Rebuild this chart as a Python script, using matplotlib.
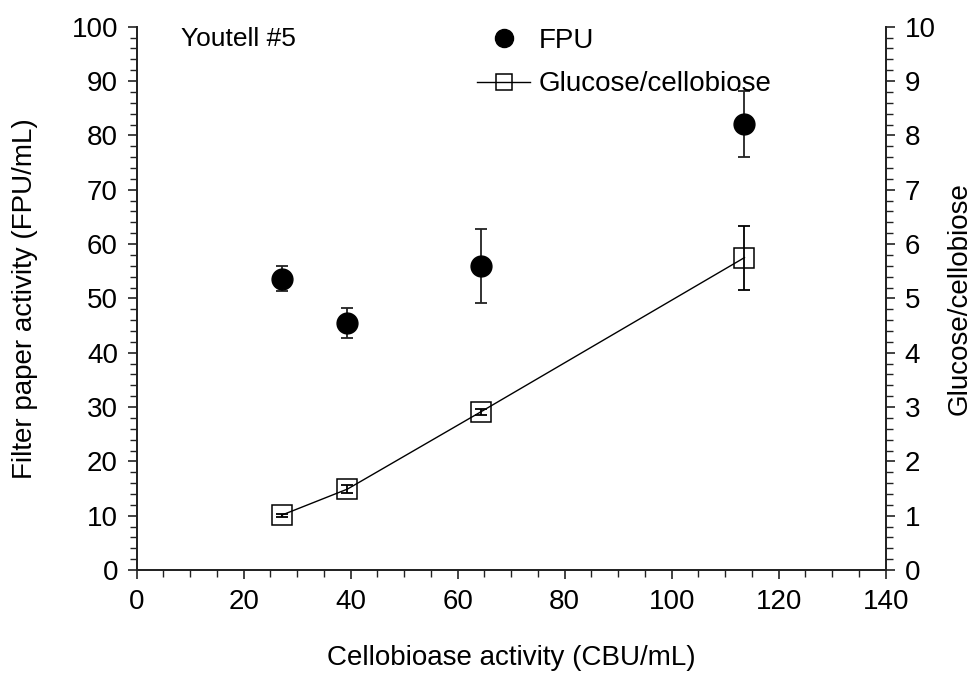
import numpy as np
import matplotlib.pyplot as plt
from matplotlib.lines import Line2D
from matplotlib.ticker import MultipleLocator

plt.rcParams["font.family"] = ["Liberation Sans", "DejaVu Sans"]

# cellobiase activity (CBU/mL)
cbu = [27.1, 39.4, 64.3, 113.6]

# filter paper activity (FPU/mL), left axis
fpu = [53.6, 45.5, 56.0, 82.1]
fpu_err = [2.3, 2.8, 6.8, 6.0]

# glucose/cellobiose ratio, right axis
ratio = [1.01, 1.49, 2.91, 5.75]
ratio_err = [0.03, 0.07, 0.05, 0.59]

fig = plt.figure(figsize=(9.72, 6.73), dpi=100)
ax = fig.add_axes([0.1406, 0.153, 0.7706, 0.8073])
ax2 = ax.twinx()

ax.errorbar(cbu, fpu, yerr=fpu_err, fmt="o", color="black", ms=15,
            ecolor="#222222", elinewidth=1.3, capsize=4.6, capthick=1.3, zorder=3)

ax2.plot(cbu, ratio, color="black", lw=1.0, zorder=2)
ax2.errorbar(cbu, ratio, yerr=ratio_err, fmt="none", ecolor="black",
             elinewidth=1.3, capsize=4.6, capthick=1.3, zorder=3)
ax2.plot(cbu, ratio, ls="none", marker="s", ms=15, mfc="none", mec="black",
         mew=1.1, zorder=4)

ax.set_xlim(0, 140)
ax.set_ylim(0, 100)
ax2.set_ylim(0, 10)

ax.xaxis.set_major_locator(MultipleLocator(20))
ax.xaxis.set_minor_locator(MultipleLocator(5))
ax.yaxis.set_major_locator(MultipleLocator(10))
ax.yaxis.set_minor_locator(MultipleLocator(2))
ax2.yaxis.set_major_locator(MultipleLocator(1))
ax2.yaxis.set_minor_locator(MultipleLocator(0.2))

for a in (ax, ax2):
    a.spines["top"].set_visible(False)
    for s in ("left", "right", "bottom"):
        a.spines[s].set_linewidth(1.3)
        a.spines[s].set_color("#222222")
    a.tick_params(which="major", direction="out", length=6.5, width=1.2,
                  labelsize=20, pad=7, color="#222222")
    a.tick_params(which="minor", direction="out", length=5, width=1.0,
                  color="#222222")

ax.set_xlabel("Cellobioase activity (CBU/mL)", fontsize=20, labelpad=22)
ax.set_ylabel("Filter paper activity (FPU/mL)", fontsize=20, labelpad=24)
ax2.set_ylabel("Glucose/cellobiose", fontsize=20, labelpad=8)

ax.text(0.059, 0.977, "Youtell #5", transform=ax.transAxes, fontsize=19,
        va="center", ha="left")

handles = [
    Line2D([], [], ls="none", marker="o", color="black", ms=13),
    Line2D([], [], color="black", lw=1.0, marker="s", ms=11, mfc="none",
           mec="black", mew=1.1),
]
ax2.legend(handles, ["FPU", "Glucose/cellobiose"], loc="upper left",
           bbox_to_anchor=(0.44, 1.018), frameon=False, fontsize=20,
           handlelength=1.9, handletextpad=0.3, labelspacing=0.62,
           borderaxespad=0)

fig.savefig("out.png", dpi=100)
